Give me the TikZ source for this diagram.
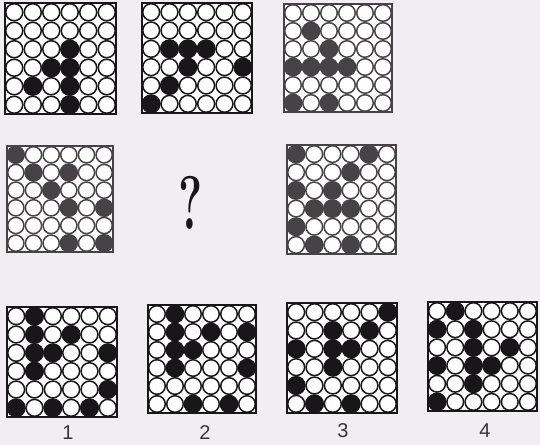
\documentclass[tikz,border=0pt]{standalone}
\usepackage{fontspec}
\newfontfamily\labelfont{Liberation Sans}
\usepackage{tikz}
\definecolor{paper}{RGB}{241,237,243}
\definecolor{inkblack}{RGB}{25,22,25}
\definecolor{inkgray}{RGB}{70,66,70}
\tikzset{
  % grid frame and dots
  gridframe/.style={line width=2.2, fill=white},
  dotoff/.style={line width=1.5, fill=white},
  % answer numbers
  numlabel/.style={font=\labelfont\fontsize{20}{20}\selectfont, text=inkgray!80!black},
}
% \dotgrid{left}{top}{size}{dark cells row/col}{ink}
\newcommand{\dotgrid}[5]{%
  \begin{scope}[shift={(#1,#2)}]
    \draw[#5, gridframe] (0,0) rectangle (#3,#3);
    \pgfmathsetmacro\cs{#3/6}
    \foreach \r in {1,...,6}
      \foreach \c in {1,...,6}
        \draw[#5, dotoff] ({(\c-0.5)*\cs},{(\r-0.5)*\cs}) circle ({0.46*\cs});
    \foreach \r/\c in {#4}
      \fill[#5] ({(\c-0.5)*\cs},{(\r-0.5)*\cs}) circle ({0.52*\cs});
  \end{scope}}

\begin{document}
\begin{tikzpicture}[x=1pt,y=-1pt]

    % ── Paper ──────────────────────────────────────────────
    \fill[paper] (0,0) rectangle (540,445);
    \useasboundingbox (0,0) rectangle (540,445);

    % ── Problem figures ────────────────────────────────────
    \dotgrid{5}{3}{111}{3/4,4/3,4/4,5/2,5/4,6/4}{inkblack}
    \dotgrid{142}{3}{110}{3/2,3/3,3/4,4/3,4/6,5/2,6/1}{inkblack}
    \dotgrid{284}{4}{108}{2/2,3/3,4/1,4/2,4/3,4/4,6/1,6/3}{inkgray}
    \dotgrid{7}{146}{106}{1/1,2/2,2/4,3/3,4/4,4/6,6/4,6/6}{inkgray}
    \dotgrid{287}{145}{109}{1/1,1/5,2/4,3/1,3/3,4/2,4/3,4/4,5/1,6/2,6/4}{inkgray}

    \node[xscale=0.6, text=inkblack,
          font=\bfseries\fontsize{76}{76}\selectfont] (qmark) at (191,203) {?};

    % ── Answer figures ─────────────────────────────────────
    \dotgrid{7}{307}{110}{1/2,2/2,3/2,4/2,2/4,3/3,3/6,5/6,6/1,6/3,6/5}{inkblack}
    \dotgrid{148}{305}{108}{1/2,2/2,3/2,4/2,2/4,2/6,3/3,4/6,6/3,6/5}{inkblack}
    \dotgrid{287}{303}{110}{1/6,2/3,2/5,3/1,3/3,3/4,4/3,5/1,6/2,6/4}{inkblack}
    \dotgrid{428}{302}{109}{1/2,2/1,2/3,3/3,4/3,5/3,3/5,4/1,4/4,6/1}{inkblack}

    \node[numlabel] (lab1) at (68,433) {1};
    \node[numlabel] (lab2) at (205,433) {2};
    \node[numlabel] (lab3) at (343,431) {3};
    \node[numlabel] (lab4) at (485,431) {4};

\end{tikzpicture}
\end{document}
